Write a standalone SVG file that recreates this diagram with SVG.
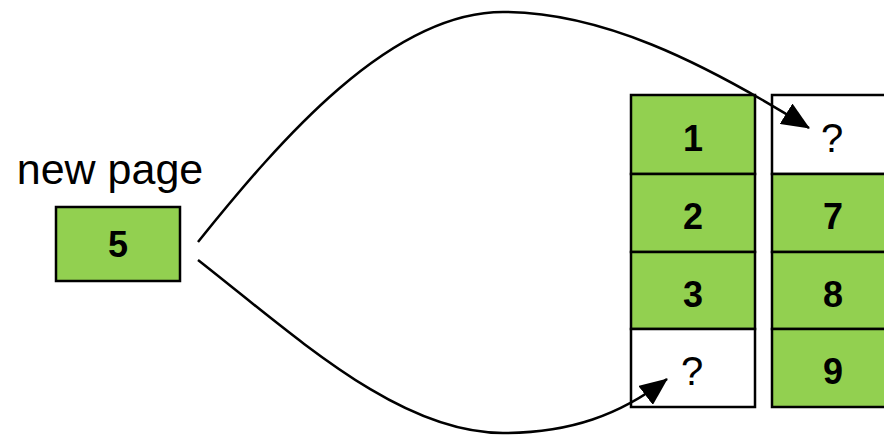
<svg xmlns="http://www.w3.org/2000/svg" width="884" height="436" viewBox="0 0 884 436">
<style>
.g{fill:#92D050;stroke:#000;stroke-width:2.5}
.w{fill:#fff;stroke:#000;stroke-width:2.5}
.n{font-family:"Liberation Sans",Arial,sans-serif;font-weight:bold;font-size:36px;text-anchor:middle;fill:#000}
.q{font-family:"Liberation Sans",Arial,sans-serif;font-size:40px;text-anchor:middle;fill:#000}
.c{fill:none;stroke:#000;stroke-width:2.5;marker-end:url(#ah)}
</style>
<defs>
<marker id="ah" viewBox="0 0 28 24" refX="27" refY="12" markerWidth="28" markerHeight="24" markerUnits="userSpaceOnUse" orient="auto">
<path d="M0,0 L28,12 L0,24 z" fill="#000"/>
</marker>
</defs>
<g id="label-new-page"><text x="110" y="184" font-family="Liberation Sans,Arial,sans-serif" font-size="43" text-anchor="middle">new page</text></g>
<g id="node-5"><rect class="g" x="56" y="207" width="124" height="74"/><text class="n" x="118" y="257">5</text></g>
<g id="node-1"><rect class="g" x="631" y="95" width="124" height="79"/><text class="n" x="693" y="151">1</text></g>
<g id="node-2"><rect class="g" x="631" y="174" width="124" height="78"/><text class="n" x="693" y="229">2</text></g>
<g id="node-3"><rect class="g" x="631" y="252" width="124" height="77"/><text class="n" x="693" y="307">3</text></g>
<g id="node-q1"><rect class="w" x="631" y="329" width="124" height="78"/><text class="q" x="692" y="385">?</text></g>
<g id="node-q2"><rect class="w" x="772" y="95" width="124" height="79"/><text class="q" x="832" y="152">?</text></g>
<g id="node-7"><rect class="g" x="772" y="174" width="124" height="78"/><text class="n" x="833" y="229">7</text></g>
<g id="node-8"><rect class="g" x="772" y="252" width="124" height="77"/><text class="n" x="833" y="307">8</text></g>
<g id="node-9"><rect class="g" x="772" y="329" width="124" height="78"/><text class="n" x="833" y="384">9</text></g>
<g id="connectors">
<path class="c" d="M198,242 C280,140 390,12 503,12 C600,12 700,60 809,128"/>
<path class="c" d="M198,260 C300,340 400,433 503,433 C570,433 620,415 667,379"/>
</g>
</svg>
